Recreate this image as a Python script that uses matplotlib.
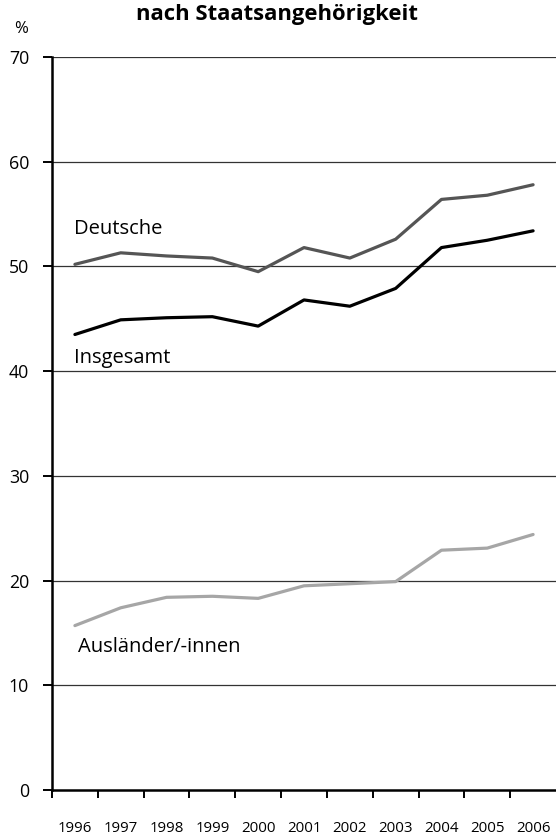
import matplotlib
matplotlib.use("Agg")
import matplotlib.pyplot as plt

plt.rcParams['font.family'] = ['Open Sans', 'DejaVu Sans']

years = ['1996', '1997', '1998', '1999', '2000', '2001', '2002', '2003', '2004', '2005', '2006']
deutsche = [50.2, 51.3, 51.0, 50.8, 49.5, 51.8, 50.8, 52.6, 56.4, 56.8, 57.8]
insgesamt = [43.5, 44.9, 45.1, 45.2, 44.3, 46.8, 46.2, 47.9, 51.8, 52.5, 53.4]
auslaender = [15.7, 17.4, 18.4, 18.5, 18.3, 19.5, 19.7, 19.9, 22.9, 23.1, 24.4]

fig = plt.figure(figsize=(5.56, 8.4), dpi=100)
ax = fig.add_axes([52 / 556, 50 / 840, 504 / 556, 733 / 840])

x = list(range(len(years)))
ax.plot(x, auslaender, color='#a6a6a6', lw=2.3, solid_capstyle='round', zorder=3)
ax.plot(x, deutsche, color='#555555', lw=2.3, solid_capstyle='round', zorder=3)
ax.plot(x, insgesamt, color='black', lw=2.3, solid_capstyle='round', zorder=3)
ax.set_xlim(-0.5, 10.5)
ax.set_ylim(0, 70)

for v in range(10, 71, 10):
    ax.axhline(v, color='#333333', lw=0.9, zorder=1)

ax.set_yticks(range(0, 71, 10))
ax.tick_params(axis='y', length=6.5, width=1.4, pad=10, labelsize=12.8)

# ticks between the years, labels in the middle
ax.set_xticks([i - 0.5 for i in range(len(years))])
ax.set_xticklabels([])
ax.set_xticks(x, minor=True)
ax.set_xticklabels(years, minor=True)
ax.tick_params(axis='x', which='major', length=6, width=1.4, direction='out')
ax.tick_params(axis='x', which='minor', length=0, pad=22, labelsize=10.8)

for s in ['top', 'right']:
    ax.spines[s].set_visible(False)
ax.spines['left'].set_linewidth(1.8)
ax.spines['bottom'].set_linewidth(1.8)

ax.text(-0.02, 53.6, 'Deutsche', fontsize=14.5, va='center', ha='left')
ax.text(-0.03, 41.3, 'Insgesamt', fontsize=14.5, va='center', ha='left')
ax.text(0.07, 13.7, 'Ausländer/-innen', fontsize=14.5, va='center', ha='left')

fig.text(0.4977, 0.983, 'nach Staatsangehörigkeit', fontsize=15.8, fontweight='bold', ha='center', va='center')
fig.text(21.5 / 556, 1 - 29 / 840, '%', fontsize=12, ha='center', va='center')

fig.savefig('out.png', dpi=100)
